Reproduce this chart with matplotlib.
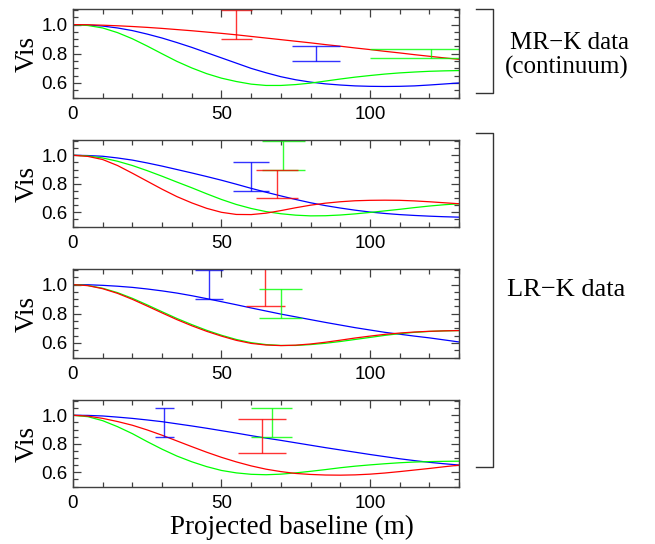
import numpy as np
import matplotlib.pyplot as plt
from matplotlib.ticker import MultipleLocator
from matplotlib.lines import Line2D

# Projected baseline grid (m) used for the model curves
baseline = [0, 5, 10, 15, 20, 25, 30, 35, 40, 45, 50, 55, 60, 65,
            70, 75, 80, 85, 90, 95, 100, 105, 110, 115, 120, 125, 130]

# Panel 1: MR-K data (continuum)
p1_red = [1.0, 0.999, 0.996, 0.992, 0.987, 0.981, 0.974, 0.966, 0.958, 0.949, 0.94, 0.93, 0.919, 0.908,
          0.897, 0.886, 0.875, 0.863, 0.852, 0.84, 0.829, 0.817, 0.806, 0.794, 0.783, 0.772, 0.762]
p1_blue = [1.0, 0.997, 0.99, 0.977, 0.959, 0.935, 0.908, 0.877, 0.844, 0.808, 0.772, 0.736, 0.70, 0.67,
           0.643, 0.622, 0.606, 0.594, 0.586, 0.58, 0.577, 0.576, 0.577, 0.58, 0.586, 0.593, 0.6]
p1_green = [1.0, 0.994, 0.977, 0.945, 0.903, 0.853, 0.8, 0.748, 0.703, 0.664, 0.633, 0.61, 0.592, 0.583,
            0.583, 0.589, 0.599, 0.613, 0.627, 0.64, 0.651, 0.661, 0.669, 0.675, 0.68, 0.683, 0.685]

# Panel 2: LR-K data
p2_red = [1.0, 0.992, 0.97, 0.928, 0.874, 0.818, 0.762, 0.71, 0.666, 0.628, 0.6, 0.585, 0.584, 0.594,
          0.612, 0.632, 0.65, 0.664, 0.674, 0.681, 0.684, 0.685, 0.684, 0.68, 0.674, 0.667, 0.66]
p2_blue = [1.0, 0.998, 0.993, 0.981, 0.966, 0.946, 0.924, 0.9, 0.876, 0.851, 0.825, 0.797, 0.768, 0.741,
           0.715, 0.69, 0.667, 0.647, 0.63, 0.615, 0.602, 0.592, 0.584, 0.578, 0.573, 0.569, 0.566]
p2_green = [1.0, 0.995, 0.981, 0.958, 0.928, 0.892, 0.853, 0.812, 0.772, 0.73, 0.69, 0.655, 0.627, 0.605,
            0.59, 0.58, 0.575, 0.576, 0.581, 0.589, 0.599, 0.61, 0.621, 0.633, 0.644, 0.653, 0.66]

# Panel 3: LR-K data
p3_red = [1.0, 0.993, 0.972, 0.94, 0.899, 0.853, 0.806, 0.76, 0.718, 0.68, 0.647, 0.618, 0.597, 0.586,
          0.582, 0.585, 0.593, 0.605, 0.619, 0.634, 0.647, 0.659, 0.668, 0.675, 0.68, 0.683, 0.685]
p3_blue = [1.0, 0.999, 0.995, 0.989, 0.981, 0.97, 0.957, 0.942, 0.924, 0.904, 0.883, 0.862, 0.84, 0.819,
           0.798, 0.779, 0.76, 0.741, 0.723, 0.705, 0.689, 0.673, 0.66, 0.647, 0.635, 0.621, 0.607]
p3_green = [1.0, 0.994, 0.975, 0.945, 0.906, 0.861, 0.814, 0.768, 0.726, 0.687, 0.653, 0.624, 0.602, 0.589,
            0.583, 0.583, 0.589, 0.598, 0.61, 0.624, 0.638, 0.652, 0.664, 0.673, 0.679, 0.683, 0.685]

# Panel 4: LR-K data
p4_red = [1.0, 0.994, 0.978, 0.956, 0.93, 0.897, 0.86, 0.82, 0.78, 0.741, 0.705, 0.673, 0.645, 0.622,
          0.605, 0.592, 0.585, 0.581, 0.58, 0.582, 0.587, 0.595, 0.605, 0.616, 0.627, 0.639, 0.65]
p4_blue = [1.0, 0.999, 0.995, 0.987, 0.978, 0.967, 0.955, 0.94, 0.925, 0.909, 0.892, 0.875, 0.857, 0.84,
           0.824, 0.807, 0.79, 0.773, 0.757, 0.741, 0.725, 0.71, 0.695, 0.682, 0.67, 0.66, 0.651]
p4_green = [1.0, 0.99, 0.962, 0.92, 0.871, 0.815, 0.762, 0.714, 0.674, 0.64, 0.613, 0.596, 0.586, 0.583,
            0.587, 0.596, 0.607, 0.619, 0.632, 0.643, 0.652, 0.66, 0.667, 0.672, 0.675, 0.677, 0.678]

# Measured visibilities: baseline, value, error, cap half-width (m), colour
p1_obs_b = [55.0, 81.8, 120.7]
p1_obs_v = [1.0, 0.8, 0.8]
p1_obs_e = [0.1, 0.05, 0.03]
p1_obs_cap = [5.3, 8.2, 20.7]
p1_obs_col = ['red', 'blue', 'lime']

p2_obs_b = [59.9, 70.8, 68.7]
p2_obs_v = [0.85, 1.0, 0.8]
p2_obs_e = [0.1, 0.1, 0.1]
p2_obs_cap = [6.1, 7.2, 7.1]
p2_obs_col = ['blue', 'lime', 'red']

p3_obs_b = [45.8, 64.8, 69.9]
p3_obs_v = [1.0, 1.0, 0.872]
p3_obs_e = [0.1, 0.15, 0.1]
p3_obs_cap = [4.7, 6.6, 7.1]
p3_obs_col = ['blue', 'red', 'lime']

p4_obs_b = [30.8, 66.9, 63.7]
p4_obs_v = [0.95, 0.95, 0.852]
p4_obs_e = [0.1, 0.1, 0.12]
p4_obs_cap = [3.1, 6.8, 8.1]
p4_obs_col = ['blue', 'lime', 'red']

panels = [
    (p1_red, p1_blue, p1_green, p1_obs_b, p1_obs_v, p1_obs_e, p1_obs_cap, p1_obs_col),
    (p2_red, p2_blue, p2_green, p2_obs_b, p2_obs_v, p2_obs_e, p2_obs_cap, p2_obs_col),
    (p3_red, p3_blue, p3_green, p3_obs_b, p3_obs_v, p3_obs_e, p3_obs_cap, p3_obs_col),
    (p4_red, p4_blue, p4_green, p4_obs_b, p4_obs_v, p4_obs_e, p4_obs_cap, p4_obs_col),
]

W, H = 655, 544
SANS = 'Liberation Sans'
SERIF = 'Liberation Serif'
AXC = '#404040'

fig = plt.figure(figsize=(W / 100, H / 100), dpi=100)

# axes boxes in pixels from the top: (top, bottom)
boxes = [(9, 98), (140, 227), (269, 358), (400, 487)]
x_left, x_right = 73, 459

for (top, bot), data in zip(boxes, panels):
    red, blue, green, ob, ov, oe, ocap, ocol = data
    ax = fig.add_axes([x_left / W, 1 - bot / H, (x_right - x_left) / W, (bot - top) / H])

    ax.plot(baseline, blue, color='blue', lw=0.9)
    ax.plot(baseline, green, color='lime', lw=0.9)
    ax.plot(baseline, red, color='red', lw=0.9)

    # error bars with caps
    for b, v, e, c, col in zip(ob, ov, oe, ocap, ocol):
        ax.vlines(b, v - e, v + e, color=col, lw=1.0, alpha=0.8)
        ax.hlines([v - e, v + e], b - c, b + c, color=col, lw=1.0, alpha=0.8)

    ax.set_xlim(0, 130)
    ax.set_ylim(0.497, 1.107)
    ax.xaxis.set_major_locator(MultipleLocator(50))
    ax.xaxis.set_minor_locator(MultipleLocator(10))
    ax.yaxis.set_major_locator(MultipleLocator(0.2))
    ax.yaxis.set_minor_locator(MultipleLocator(0.05))
    ax.tick_params(which='both', direction='in', top=True, right=True, color=AXC, width=0.9)
    ax.tick_params(which='major', length=6, labelsize=13.5, pad=4)
    ax.tick_params(which='minor', length=3.5)
    ax.tick_params(axis='x', which='major', pad=6)
    for lab in ax.get_xticklabels() + ax.get_yticklabels():
        lab.set_family(SANS)
    for sp in ax.spines.values():
        sp.set_color(AXC)
        sp.set_linewidth(1.0)
    ax.set_ylabel('Vis', family=SERIF, fontsize=19.5, labelpad=1)

fig.text(292 / W, 1 - 527 / H, 'Projected baseline (m)', family=SERIF, fontsize=19.5,
         ha='center', va='center')

# brackets on the right
def bracket(y0, y1, x0=476, x1=493):
    xs = [x0 / W, x1 / W, x1 / W, x0 / W]
    ys = [1 - y0 / H, 1 - y0 / H, 1 - y1 / H, 1 - y1 / H]
    fig.add_artist(Line2D(xs, ys, transform=fig.transFigure, color='#333333', lw=1.0))

bracket(9, 93)
bracket(133, 467)

fig.text(569 / W, 1 - 43 / H, 'MR\u2212K data', family=SERIF, fontsize=18, ha='center', va='center')
fig.text(567 / W, 1 - 67 / H, '(continuum)', family=SERIF, fontsize=18, ha='center', va='center')
fig.text(566 / W, 1 - 290 / H, 'LR\u2212K data', family=SERIF, fontsize=19, ha='center', va='center')

fig.savefig('out.png', dpi=100)
